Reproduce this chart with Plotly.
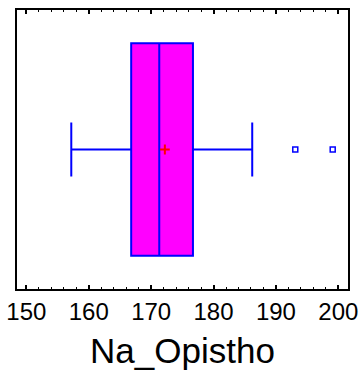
import plotly.graph_objects as go

# Data
variable = "Na_Opistho"
q1 = [166.8]
median = [171.3]
q3 = [176.7]
lower_whisker = [157.2]
upper_whisker = [186.2]
mean_val = [172.2]
outliers = [193.1, 199.1]
tick_vals = [150, 160, 170, 180, 190, 200]

fig = go.Figure()
fig.add_trace(go.Box(
    y=[0], q1=q1, median=median, q3=q3,
    lowerfence=lower_whisker, upperfence=upper_whisker,
    orientation="h", width=0.762, whiskerwidth=0.254,
    fillcolor="#FF00FF", line=dict(color="#0000FF", width=2),
    boxpoints=False, showlegend=False, hoverinfo="skip",
))
fig.add_trace(go.Scatter(
    x=mean_val, y=[0], mode="markers",
    marker=dict(symbol="cross-thin", size=7, line=dict(color="red", width=2)),
    showlegend=False,
))
fig.add_trace(go.Scatter(
    x=outliers, y=[0] * len(outliers), mode="markers",
    marker=dict(symbol="square-open", size=5, color="#0000FF", line=dict(color="#0000FF", width=1.5)),
    showlegend=False,
))

fig.update_layout(
    width=363, height=373,
    margin=dict(l=17, r=15, t=10, b=84),
    paper_bgcolor="white", plot_bgcolor="white",
    font=dict(family="Liberation Sans, Arial, sans-serif", color="black"),
)
fig.update_xaxes(
    range=[148.5, 201.55], tickvals=tick_vals,
    ticks="inside", ticklen=4, tickwidth=1.5, tickcolor="black",
    showline=True, linewidth=2, linecolor="black", mirror="ticks",
    showgrid=False, zeroline=False, automargin=False,
    tickfont=dict(size=24),
    minor=dict(dtick=2, ticks="inside", ticklen=2, tickwidth=1, tickcolor="black", showgrid=False),
    title=dict(text=variable, font=dict(size=35), standoff=15),
)
fig.update_yaxes(
    range=[-0.5, 0.5], showticklabels=False, ticks="",
    showline=True, linewidth=2, linecolor="black", mirror=True,
    showgrid=False, zeroline=False, automargin=False,
)
fig.write_html("out.html", config={"displayModeBar": False},
               post_script="document.body.style.margin='0';")
